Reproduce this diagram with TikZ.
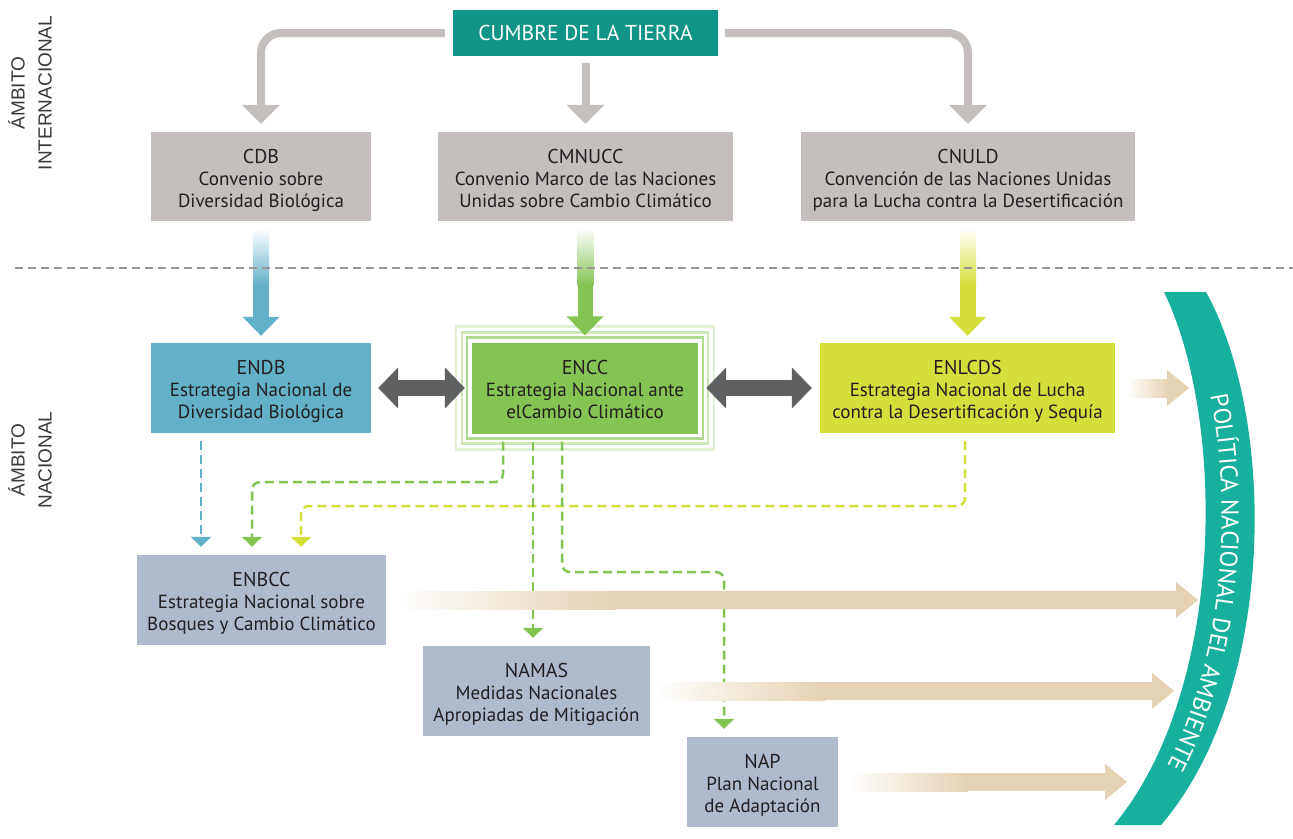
\documentclass[tikz,border=0pt]{standalone}
\usepackage{fontspec}
\setmainfont{PT Sans}
\newfontfamily\labfont{Liberation Sans}
\usetikzlibrary{arrows.meta,calc,decorations.text}
\definecolor{cumbrec}{HTML}{109488}
\definecolor{arcteal}{HTML}{17B09F}
\definecolor{graybox}{HTML}{C4BEBD}
\definecolor{bluec}{HTML}{63B0C9}
\definecolor{greenc}{HTML}{83C452}
\definecolor{yellowc}{HTML}{D5DF3B}
\definecolor{lowbox}{HTML}{AFBACC}
\definecolor{tanc}{HTML}{E4D2B2}
\definecolor{darkarr}{HTML}{5E6061}
\definecolor{txt}{HTML}{231F20}
\definecolor{dashg}{HTML}{9B9797}
\definecolor{labg}{HTML}{3A3A3A}
\newcommand\subf{\fontsize{19}{22}\selectfont}
\newcommand\titf{\fontsize{20}{22}\selectfont\rule{0pt}{22pt}}
\newcommand\lastl{\rule[-5pt]{0pt}{5pt}}
\newcommand\arcf{\color{white}\fontsize{24.5}{24.5}\selectfont}
\newcommand\labf{\labfont\fontsize{19}{27}\selectfont}
% vertical gradient arrow: colour, from node, to node
\newcommand\vgarrow[3]{%
  \shade[top color=white, bottom color=#1] ($(#2.south)+(-8,7)$) rectangle ($(#2.south)+(8,64)$);
  \fill[#1] ($(#2.south)+(-8,63.5)$) rectangle ($(#3.north)+(8,-24)$);
  \fill[#1] ($(#3.north)+(-18.5,-26)$) -- ($(#3.north)+(18.5,-26)$) -- ($(#3.north)+(0,-7)$) -- cycle;}
% horizontal gradient arrow: start coordinate, fade length, tip coordinate
\newcommand\hgarrow[3]{%
  \shade[left color=white, right color=tanc] ($(#1)+(0,-9)$) rectangle ($(#1)+(#2,9)$);
  \fill[tanc] ($(#1)+(#2-0.5,-9)$) rectangle ($(#3)+(-21,9)$);
  \fill[tanc] ($(#3)+(-22,-18)$) -- (#3) -- ($(#3)+(-22,18)$) -- cycle;}
\begin{document}
\begin{tikzpicture}[x=1pt,y=-1pt,
  box/.style={inner sep=0pt, align=center, text=txt, font=\subf},
  lab/.style={inner sep=0pt, align=center, text=labg, font=\labf, rotate=90},
  gconn/.style={draw=graybox, line width=8pt, rounded corners=20pt, -{Triangle[width=37pt,length=19pt]}},
  dbl/.style={draw=darkarr, line width=16pt, {Triangle[width=40pt,length=20pt]}-{Triangle[width=40pt,length=20pt]}},
  dconn/.style={line width=2.5pt, dash pattern=on 9pt off 5pt, rounded corners=8pt, shorten >=8pt, -{Triangle[width=20pt,length=10pt]}},
  encline/.style={line width=2.5pt}]
\fill[white] (0,0) rectangle (1293,838);
\useasboundingbox (0,0) rectangle (1293,838);

% side labels
\node[lab] (intl) at (30,93) {ÁMBITO\\INTERNACIONAL};
\node[lab] (nacl) at (30,460) {ÁMBITO\\NACIONAL};

% international level
\node[box, fill=cumbrec, text=white, font=\fontsize{21.5}{22}\selectfont, minimum width=265pt, minimum height=46pt] (cumbre) at (585.5,33) {CUMBRE DE LA TIERRA};
\node[box, fill=graybox, minimum width=220pt, minimum height=89pt] (cdb) at (261,176.5) {{\titf CDB}\\Convenio sobre\\Diversidad Biológica\lastl};
\node[box, fill=graybox, minimum width=295pt, minimum height=89pt] (cmnucc) at (585.5,176.5) {{\titf CMNUCC}\\Convenio Marco de las Naciones\\Unidas sobre Cambio Climático\lastl};
\node[box, fill=graybox, minimum width=334pt, minimum height=89pt] (cnuld) at (968,176.5) {{\titf CNULD}\\Convención de las Naciones Unidas\\para la Lucha contra la Desertificación\lastl};

\draw[gconn] ([xshift=-8pt]cumbre.west) -| ([yshift=8pt]cdb.north);
\draw[gconn] ([yshift=-7pt]cumbre.south) -- ([yshift=8pt]cmnucc.north);
\draw[gconn] ([xshift=7pt]cumbre.east) -| ([yshift=8pt]cnuld.north);

% national level
\node[box, fill=bluec, minimum width=220pt, minimum height=90pt] (endb) at (261,388) {{\titf ENDB}\\Estrategia Nacional de\\Diversidad Biológica\lastl};
\node[box, fill=greenc, minimum width=226pt, minimum height=91pt] (encc) at (585,388) {{\titf ENCC}\\Estrategia Nacional ante\\elCambio Climático\lastl};
\node[box, fill=yellowc, minimum width=295pt, minimum height=90pt] (enlcds) at (967.5,388) {{\titf ENLCDS}\\Estrategia Nacional de Lucha\\contra la Desertificación y Sequía\lastl};
\draw[encline, draw=greenc!65] ($(encc.north west)+(-5,-5)$) rectangle ($(encc.south east)+(5,5)$);
\draw[encline, draw=greenc!40] ($(encc.north west)+(-10,-10)$) rectangle ($(encc.south east)+(10,10)$);
\draw[encline, draw=greenc!25] ($(encc.north west)+(-16,-16)$) rectangle ($(encc.south east)+(16,16)$);

\vgarrow{bluec}{cdb}{endb}
\vgarrow{greenc}{cmnucc}{encc}
\vgarrow{yellowc}{cnuld}{enlcds}

% divider
\coordinate (divL) at (15,268);
\coordinate (divR) at (1293,268);
\draw[dashg, line width=2.5pt, dash pattern=on 8pt off 5pt] (divL) -- (divR);

\draw[dbl] ([xshift=7pt]endb.east) -- ([xshift=-7pt]encc.west);
\draw[dbl] ([xshift=8pt]encc.east) -- ([xshift=-8pt]enlcds.west);

\node[box, fill=lowbox, minimum width=249pt, minimum height=90pt] (enbcc) at (261.5,600) {{\titf ENBCC}\\Estrategia Nacional sobre\\Bosques y Cambio Climático\lastl};
\node[box, fill=lowbox, minimum width=227pt, minimum height=90pt] (namas) at (536.5,691) {{\titf NAMAS}\\Medidas Nacionales\\Apropiadas de Mitigación\lastl};
\node[box, fill=lowbox, minimum width=151pt, minimum height=90pt] (nap) at (762.5,782) {{\titf NAP}\\Plan Nacional\\de Adaptación\lastl};

% dashed connectors
\coordinate (b0) at ($(endb.south)+(-60,8)$);
\draw[dconn, bluec] (b0) -- (b0 |- enbcc.north);
\coordinate (y0) at ($(enlcds.south)+(-2.5,8)$);
\coordinate (y1) at (301,506);
\draw[dconn, yellowc] (y0) |- (y1) -- (y1 |- enbcc.north);
\coordinate (gl0) at ($(encc.south)+(-82,8)$);
\coordinate (gl1) at (252,482);
\draw[dconn, greenc] (gl0) |- (gl1) -- (gl1 |- enbcc.north);
\coordinate (gm0) at ($(encc.south)+(-52,8)$);
\draw[dconn, greenc] (gm0) -- (gm0 |- namas.north);
\coordinate (gr0) at ($(encc.south)+(-23,8)$);
\coordinate (gr1) at (724,572);
\draw[dconn, greenc] (gr0) |- (gr1) -- (gr1 |- nap.north);

% tan arrows to the policy band
\coordinate (s1) at ([xshift=12pt]enlcds.east);
\coordinate (t1) at (1189,388);
\hgarrow{s1}{42}{t1}
\coordinate (s2) at ([xshift=9pt]enbcc.east);
\coordinate (t2) at (1198,600);
\hgarrow{s2}{220}{t2}
\coordinate (s3) at ([xshift=5pt]namas.east);
\coordinate (t3) at (1174,691);
\hgarrow{s3}{170}{t3}
\coordinate (s4) at ([xshift=10pt]nap.east);
\coordinate (t4) at (1127,782);
\hgarrow{s4}{120}{t4}

% policy band
\fill[arcteal] (1164,292) .. controls (1226,420) and (1226,690) .. (1114,825) -- (1161,825) .. controls (1277,690) and (1277,420) .. (1206,292) -- cycle;
\path[decorate, decoration={text along path, text={|\arcf|POLÍTICA NACIONAL DEL AMBIENTE}, text align={left indent=108pt}, raise=-8.5pt}]
  (1185,292) .. controls (1251.5,420) and (1251.5,690) .. (1137.5,825);
\end{tikzpicture}
\end{document}
